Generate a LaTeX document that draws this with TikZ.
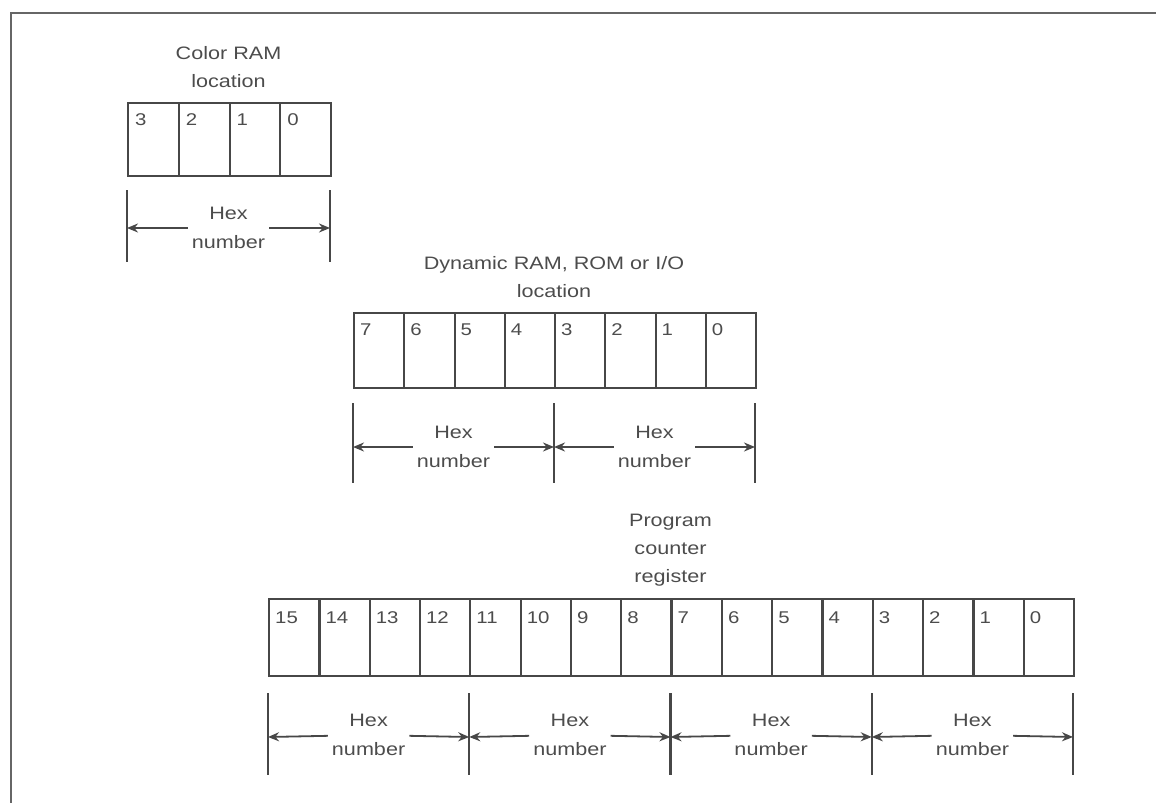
\documentclass[tikz,border=0pt]{standalone}
\usepackage{fontspec}
\setmainfont[FakeStretch=1.2]{Liberation Sans}
\usetikzlibrary{arrows.meta, positioning}

\begin{document}
\begin{tikzpicture}[
    x=1pt, y=-1pt,
    every node/.style={font=\fontsize{18}{29}\selectfont, text=black!70, align=center},
    title/.style={anchor=south, inner sep=0pt, text depth=0pt, font=\fontsize{18}{28}\selectfont},
    cell/.style={draw=black!72, line width=2.2pt, inner sep=0pt, anchor=north west},
    bitno/.style={font=\fontsize{17}{18}\selectfont, anchor=west, inner sep=0pt},
    tick/.style={draw=black!72, line width=2.2pt},
    hexlbl/.style={inner sep=4pt},
    frame/.style={draw=black!60, line width=2.6pt},
    arr/.style={-{Stealth[length=11pt, width=9pt]}, draw=black!72, line width=1.8pt}
  ]
  \useasboundingbox (0,0) rectangle (1156,803);

  % page frame (top and left edge only)
  \coordinate (ftr) at (1156,13);
  \coordinate (ftl) at (11,13);
  \coordinate (fbl) at (11,803);
  \draw[frame] (ftr) -- (ftl) -- (fbl);

  % colour RAM location
  \node[title] (crtitle) at (228.5,88) {Color RAM\\location};
  \foreach \i in {0,...,3} {
    \pgfmathtruncatemacro{\b}{3-\i}
    \node[cell, minimum width=50.75pt, minimum height=73pt] (cr\b) at (127+50.75*\i,102) {};
    \node[bitno] (crn\b) at ([shift={(8,18)}]cr\b.north west) {\b};
  }
  \coordinate (crt0) at (127,190);  \coordinate (crb0) at (127,262);
  \coordinate (crt1) at (330,190);  \coordinate (crb1) at (330,262);
  \coordinate (cra0) at (127,228);  \coordinate (cra1) at (330,228);
  \draw[tick] (crt0) -- (crb0);
  \draw[tick] (crt1) -- (crb1);
  \node[hexlbl] (crhex) at (228.5,228) {Hex\\number};
  \draw[arr] (crhex) -- (cra0);
  \draw[arr] (crhex) -- (cra1);

  % dynamic RAM, ROM or I/O location
  \node[title] (drtitle) at (554,298) {Dynamic RAM, ROM or I/O\\location};
  \foreach \i in {0,...,7} {
    \pgfmathtruncatemacro{\b}{7-\i}
    \node[cell, minimum width=50.25pt, minimum height=75pt] (dr\b) at (353+50.25*\i,312) {};
    \node[bitno] (drn\b) at ([shift={(7,18)}]dr\b.north west) {\b};
  }
  \foreach \k/\x in {0/353, 1/554, 2/755} {
    \coordinate (drt\k) at (\x,403);
    \coordinate (drb\k) at (\x,483);
    \coordinate (dra\k) at (\x,447);
    \draw[tick] (drt\k) -- (drb\k);
  }
  \node[hexlbl] (drhexhi) at (453.5,447) {Hex\\number};
  \node[hexlbl] (drhexlo) at (654.5,447) {Hex\\number};
  \draw[arr] (drhexhi) -- (dra0);
  \draw[arr] (drhexhi) -- (dra1);
  \draw[arr] (drhexlo) -- (dra1);
  \draw[arr] (drhexlo) -- (dra2);

  % program counter register
  \node[title] (pctitle) at (670.5,583) {Program\\counter\\register};
  \foreach \i in {0,...,15} {
    \pgfmathtruncatemacro{\b}{15-\i}
    \node[cell, minimum width=50.31pt, minimum height=77pt] (pc\b) at (268+50.31*\i,598) {};
    \node[bitno] (pcn\b) at ([shift={(7,20)}]pc\b.north west) {\b};
  }
  \foreach \k/\x in {0/268, 1/469.25, 2/670.5, 3/871.75, 4/1073} {
    \coordinate (pct\k) at (\x,693);
    \coordinate (pcb\k) at (\x,775);
    \coordinate (pca\k) at (\x,737);
    \draw[tick] (pct\k) -- (pcb\k);
  }
  \foreach \k/\x in {0/368.6, 1/569.9, 2/771.1, 3/972.4} {
    \pgfmathtruncatemacro{\n}{\k+1}
    \node[hexlbl] (pchex\k) at (\x,735) {Hex\\number};
    \draw[arr] (pchex\k) -- (pca\k);
    \draw[arr] (pchex\k) -- (pca\n);
  }
\end{tikzpicture}
\end{document}
